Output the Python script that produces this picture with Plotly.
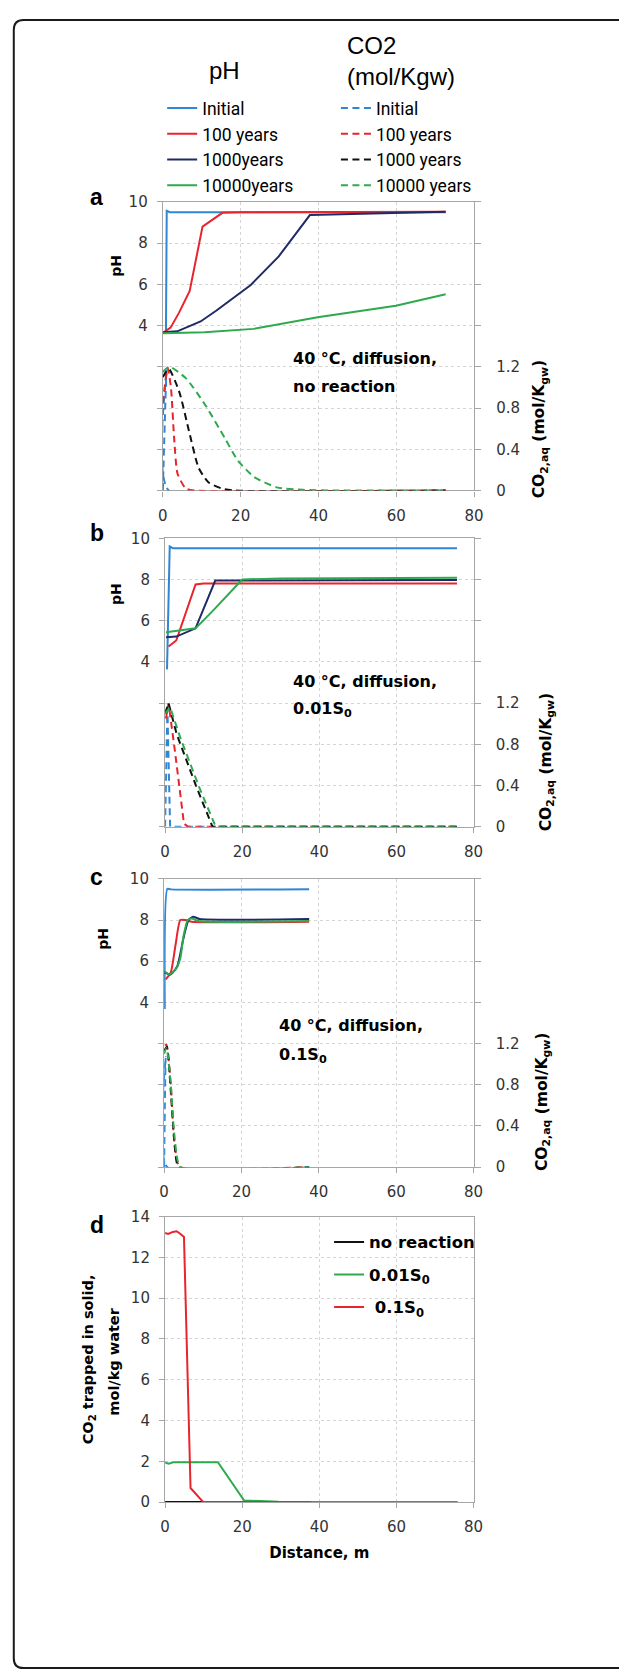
import plotly.graph_objects as go

W, H = 629, 1679
def fx(p): return p / W
def fy(p): return 1 - p / H

# ---------------- data ----------------
series_names_ph = ["Initial", "100 years", "1000years", "10000years"]
series_names_co2 = ["Initial", "100 years", "1000 years", "10000 years"]

# Panel a : no reaction
a_x_ph_init = [0.8, 1.0, 1.8, 72.7];  a_ph_init = [3.65, 9.57, 9.5, 9.5]
a_x_ph_100 = [0, 2.0, 4.2, 6.9, 10.2, 15.3, 20, 72.7]; a_ph_100 = [3.65, 3.9, 4.64, 5.68, 8.8, 9.47, 9.5, 9.52]
a_x_ph_1000 = [0, 3.7, 9.7, 13.7, 22.6, 29.8, 37.8, 72.7]; a_ph_1000 = [3.68, 3.72, 4.2, 4.72, 5.97, 7.36, 9.36, 9.52]
a_x_ph_10000 = [0, 10.7, 23.3, 39.8, 59.9, 72.7]; a_ph_10000 = [3.63, 3.68, 3.84, 4.4, 4.96, 5.52]

a_x_co2_init = [0, 1.0, 1.5, 72.7]; a_co2_init = [0, 1.18, 0, 0]
a_x_co2_100 = [0, 1.25, 2.1, 2.9, 3.8, 5.9, 8, 72.7]; a_co2_100 = [0.85, 1.19, 0.99, 0.51, 0.16, 0.02, 0, 0]
a_x_co2_1000 = [0, 1.5, 4.2, 6.7, 9.2, 11.7, 15.1, 18.5, 72.7]; a_co2_1000 = [1.1, 1.18, 0.96, 0.58, 0.22, 0.08, 0.02, 0, 0]
a_x_co2_10000 = [0, 1.7, 5.9, 10.9, 15.9, 19.3, 23.5, 29.3, 36, 43.6, 72.7]
a_co2_10000 = [1.15, 1.2, 1.09, 0.83, 0.51, 0.29, 0.13, 0.03, 0.006, 0, 0]

# Panel b : 0.01 S0
b_x_ph_init = [0.5, 1.2, 2.0, 75.7]; b_ph_init = [3.64, 9.6, 9.52, 9.52]
b_x_ph_100 = [0.9, 2.9, 7.9, 10, 75.7]; b_ph_100 = [4.75, 5.04, 7.76, 7.8, 7.8]
b_x_ph_1000 = [0.25, 2.9, 7.9, 13, 20, 75.7]; b_ph_1000 = [5.2, 5.23, 5.63, 7.95, 7.95, 7.97]
b_x_ph_10000 = [0.25, 7.9, 12.8, 20, 30, 75.7]; b_ph_10000 = [5.44, 5.63, 6.56, 8.0, 8.05, 8.08]

b_x_co2_init = [0, 0.6, 1.3, 75.7]; b_co2_init = [0, 1.15, 0, 0]
b_x_co2_100 = [0.2, 0.9, 2.5, 4.9, 6, 75.7]; b_co2_100 = [1.05, 1.2, 0.75, 0.03, 0, 0]
b_x_co2_1000 = [0, 0.9, 3, 8, 12.3, 75.7]; b_co2_1000 = [1.1, 1.2, 0.9, 0.4, 0, 0]
b_x_co2_10000 = [0, 1.3, 3.9, 9, 12.8, 13.6, 75.7]; b_co2_10000 = [1.1, 1.16, 0.87, 0.37, 0.03, 0, 0]

# Panel c : 0.1 S0
c_x_ph_init = [0.17, 0.85, 1.7, 37.5]; c_ph_init = [3.68, 9.52, 9.49, 9.49]
c_x_ph_100 = [0.4, 1.7, 2.96, 4.2, 5.5, 7.2, 37.5]; c_ph_100 = [5.12, 5.44, 6.8, 8.0, 8.0, 7.92, 7.92]
c_x_ph_1000 = [0, 1.7, 3.4, 5.0, 6.3, 7.5, 9.2, 37.5]; c_ph_1000 = [5.47, 5.36, 5.76, 7.12, 8.0, 8.16, 8.05, 8.05]
c_x_ph_10000 = [0, 1.3, 3, 4.2, 5, 6.1, 7.2, 8.9, 37.5]; c_ph_10000 = [5.52, 5.36, 5.6, 6.16, 7.2, 8.0, 8.08, 7.95, 7.95]

c_x_co2_init = [0, 0.4, 0.85, 37.5]; c_co2_init = [0, 1.07, 0, 0]
c_x_co2_100 = [0.25, 0.6, 1.7, 2.5, 3.4, 4.2, 37.5]; c_co2_100 = [1.18, 1.19, 0.81, 0.3, 0.05, 0, 0]
c_x_co2_1000 = [0, 0.7, 1.7, 2.9, 3.8, 37.5]; c_co2_1000 = [1.13, 1.17, 0.75, 0.15, 0, 0]
c_x_co2_10000 = [0, 0.6, 1.7, 2.5, 3.4, 4.2, 37.5]; c_co2_10000 = [1.1, 1.16, 0.81, 0.37, 0.08, 0, 0]

# Panel d : CO2 trapped in solid
d_names = ["no reaction", "0.01S<sub>0</sub>", "\u00a00.1S<sub>0</sub>"]
d_x_none = [0, 72.7]; d_none = [0, 0]
d_x_001 = [0, 0.9, 2.3, 13.7, 20.5, 29.4, 75.9]; d_001 = [1.94, 1.88, 1.96, 1.96, 0.08, 0.02, 0]
d_x_01 = [0, 0.8, 2, 3, 4, 4.9, 6.6, 9.9, 37.9]; d_01 = [13.2, 13.15, 13.25, 13.28, 13.15, 13.0, 0.69, 0, 0]

x_ticks = [0, 20, 40, 60, 80]
ph_tickvals = [4, 6, 8, 10]
ph_minor_vals = [-4, -2, 0, 2]
co2_tickvals = [0, 0.4, 0.8, 1.2]
co2_minor_vals = [1.6, 2.0, 2.4, 2.8]
d_tickvals = [0, 2, 4, 6, 8, 10, 12, 14]

# ---------------- styles ----------------
BLUE = "#2F86D3"
RED = "#E8242C"
NAVY = "#1F2A68"
GREEN = "#2DAA4E"
BLACK = "#111111"
AXC = "#A6A6A6"
GRIDC = "#D4D4D4"
TICKFONT = dict(family="DejaVu Sans", size=15, color="#333333")
DASH = "7px,4.5px"

fig = go.Figure()

panels = [
    ("a", "x", "y", "y2",
     [(a_x_ph_init, a_ph_init), (a_x_ph_100, a_ph_100), (a_x_ph_1000, a_ph_1000), (a_x_ph_10000, a_ph_10000)],
     [(a_x_co2_init, a_co2_init), (a_x_co2_100, a_co2_100), (a_x_co2_1000, a_co2_1000), (a_x_co2_10000, a_co2_10000)],
     "linear", "spline"),
    ("b", "x2", "y3", "y4",
     [(b_x_ph_init, b_ph_init), (b_x_ph_100, b_ph_100), (b_x_ph_1000, b_ph_1000), (b_x_ph_10000, b_ph_10000)],
     [(b_x_co2_init, b_co2_init), (b_x_co2_100, b_co2_100), (b_x_co2_1000, b_co2_1000), (b_x_co2_10000, b_co2_10000)],
     "linear", "linear"),
    ("c", "x3", "y5", "y6",
     [(c_x_ph_init, c_ph_init), (c_x_ph_100, c_ph_100), (c_x_ph_1000, c_ph_1000), (c_x_ph_10000, c_ph_10000)],
     [(c_x_co2_init, c_co2_init), (c_x_co2_100, c_co2_100), (c_x_co2_1000, c_co2_1000), (c_x_co2_10000, c_co2_10000)],
     "spline", "spline"),
]

ph_colors = [BLUE, RED, NAVY, GREEN]
co2_colors = [BLUE, RED, BLACK, GREEN]

for key, xa, ya, yb, phs, co2s, shp_ph, shp_co2 in panels:
    first = key == "a"
    for i, (xs, ys) in enumerate(co2s):
        fig.add_trace(go.Scatter(x=xs, y=ys, mode="lines", xaxis=xa, yaxis=yb,
                                 line=dict(color=co2_colors[i], width=2, dash=DASH, shape=shp_co2, smoothing=0.6),
                                 name=series_names_co2[i], showlegend=first, legend="legend2",
                                 legendgroup="co2_%d" % i, hoverinfo="skip"))
    for i, (xs, ys) in enumerate(phs):
        fig.add_trace(go.Scatter(x=xs, y=ys, mode="lines", xaxis=xa, yaxis=ya,
                                 line=dict(color=ph_colors[i], width=2, shape=shp_ph, smoothing=0.6),
                                 name=series_names_ph[i], showlegend=first, legend="legend",
                                 legendgroup="ph_%d" % i, hoverinfo="skip"))

for i, (xs, ys, col) in enumerate([(d_x_none, d_none, BLACK), (d_x_001, d_001, GREEN), (d_x_01, d_01, RED)]):
    fig.add_trace(go.Scatter(x=xs, y=ys, mode="lines", xaxis="x4", yaxis="y7",
                             line=dict(color=col, width=2), name=d_names[i],
                             legend="legend3", legendgroup="d_%d" % i, hoverinfo="skip"))

# ---------------- axes ----------------
geo = {
    "a": (161.7, 480.5, 195.0, 486.7),
    "b": (164.0, 480.0, 535.0, 826.7),
    "c": (163.0, 480.0, 879.3, 1170.7),
    "d": (164.0, 480.0, 1220.7, 1509.3),
}

common = dict(showline=True, linecolor=AXC, linewidth=1.3, ticks="outside", tickcolor=AXC, tickwidth=1.3,
              zeroline=False, tickfont=TICKFONT, fixedrange=True, layer="below traces")

def xaxis_cfg(key, anchor):
    x0, x1, y0, y1 = geo[key]
    return dict(domain=[fx(x0), fx(x1)], anchor=anchor, range=[0, 80], tickvals=x_ticks,
                mirror=True, ticklen=5, showgrid=True, gridcolor=GRIDC, griddash="dot", gridwidth=1,
                ticklabelstandoff=6, **common)

def yph_cfg(key, anchor):
    x0, x1, y0, y1 = geo[key]
    return dict(domain=[fy(y1), fy(y0)], anchor=anchor, range=[-4, 10], tickvals=ph_tickvals,
                ticklen=5, showgrid=True, gridcolor=GRIDC, griddash="dot", gridwidth=1,
                ticklabelstandoff=6,
                minor=dict(tickvals=ph_minor_vals, ticks="outside", ticklen=5, tickcolor=AXC, tickwidth=1.3,
                           showgrid=True, gridcolor=GRIDC, griddash="dot", gridwidth=1),
                **common)

def yco2_cfg(overlay, anchor):
    return dict(overlaying=overlay, side="right", anchor=anchor, range=[0, 2.8],
                tickvals=co2_tickvals, ticklen=6, showgrid=False, ticklabelstandoff=12,
                minor=dict(tickvals=co2_minor_vals, ticks="outside", ticklen=6, tickcolor=AXC, tickwidth=1.3,
                           showgrid=False),
                **common)

layout_axes = dict(
    xaxis=xaxis_cfg("a", "y"), yaxis=yph_cfg("a", "x"), yaxis2=yco2_cfg("y", "x"),
    xaxis2=xaxis_cfg("b", "y3"), yaxis3=yph_cfg("b", "x2"), yaxis4=yco2_cfg("y3", "x2"),
    xaxis3=xaxis_cfg("c", "y5"), yaxis5=yph_cfg("c", "x3"), yaxis6=yco2_cfg("y5", "x3"),
    xaxis4=xaxis_cfg("d", "y7"),
)
layout_axes["xaxis4"]["title"] = dict(text="Distance, m", standoff=12,
                                      font=dict(family="DejaVu Sans", size=15, color="#000000", weight="bold"))
x0, x1, y0, y1 = geo["d"]
layout_axes["yaxis7"] = dict(domain=[fy(y1), fy(y0)], anchor="x4", range=[0, 14], tickvals=d_tickvals,
                             mirror=True, ticklen=5, showgrid=True, gridcolor=GRIDC, griddash="dot", gridwidth=1,
                             ticklabelstandoff=6, **common)

# ---------------- annotations ----------------
ann = []
def A(text, x, y, size, family="DejaVu Sans", bold=False, xanchor="center", yanchor="middle",
      angle=0, align="center", color="#000000"):
    ann.append(dict(text=text, x=fx(x), y=fy(y), xref="paper", yref="paper",
                    showarrow=False, xanchor=xanchor, yanchor=yanchor, textangle=angle, align=align,
                    font=dict(family=family, size=size, color=color, weight="bold" if bold else "normal")))

A("pH", 224.6, 62, 24, family="Liberation Sans")
A("CO2<br>(mol/Kgw)", 348, 52.5, 24, family="Liberation Sans", xanchor="left", align="left")

for lab, yy in [("a", 190), ("b", 530), ("c", 877), ("d", 1229)]:
    A(lab, 94, yy, 23, family="Liberation Sans", bold=True)

for xx, yy in [(114.3, 260), (114.3, 591.7), (100.3, 940)]:
    A("pH", xx, yy, 14, bold=True, angle=-90)
for xx, yy in [(549, 425), (555, 761.7), (551, 1105)]:
    A("CO<sub>2,aq</sub> (mol/K<sub>gw</sub>)", xx, yy, 15.5, bold=True, angle=-90)

A("40 °C, diffusion,", 293, 353.3, 16, bold=True, xanchor="left")
A("no reaction", 293, 381.7, 16, bold=True, xanchor="left")
A("40 °C, diffusion,", 293, 680, 16, bold=True, xanchor="left")
A("0.01S<sub>0</sub>", 293, 708, 16, bold=True, xanchor="left")
A("40 °C, diffusion,", 279, 1028, 16, bold=True, xanchor="left")
A("0.1S<sub>0</sub>", 279, 1058, 16, bold=True, xanchor="left")

A("CO<sub>2</sub> trapped in solid,", 86, 1365, 14.5, bold=True, angle=-90)
A("mol/kg water", 112, 1367, 14.5, bold=True, angle=-90)

# ---------------- frame ----------------
r = 10
path = ("M %f,%f L %f,%f Q %f,%f %f,%f L %f,%f Q %f,%f %f,%f L %f,%f" % (
    fx(629), fy(11), fx(9 + r), fy(11), fx(9), fy(11), fx(9), fy(11 + r),
    fx(9), fy(1677 - r), fx(9), fy(1677), fx(9 + r), fy(1677), fx(629), fy(1677)))
shapes = [dict(type="path", path=path, xref="paper", yref="paper",
               line=dict(color="#1A1A1A", width=2))]

LEGFONT = dict(family="Roboto", size=17.5, color="#000000")
fig.update_layout(
    width=W, height=H, margin=dict(l=0, r=0, t=0, b=0),
    paper_bgcolor="white", plot_bgcolor="white",
    showlegend=True,
    legend=dict(x=fx(161), y=fy(82), xanchor="left", yanchor="top", bgcolor="rgba(0,0,0,0)",
                font=LEGFONT, itemwidth=30, traceorder="normal", tracegroupgap=0),
    legend2=dict(x=fx(339), y=fy(82), xanchor="left", yanchor="top", bgcolor="rgba(0,0,0,0)",
                 font=LEGFONT, itemwidth=30, traceorder="normal", tracegroupgap=0),
    legend3=dict(x=fx(332), y=fy(1229), xanchor="left", yanchor="top", bgcolor="rgba(0,0,0,0)",
                 font=dict(family="DejaVu Sans", size=16.5, color="#000000", weight="bold"), itemwidth=30,
                 traceorder="grouped", tracegroupgap=8),
    annotations=ann, shapes=shapes,
    **layout_axes,
)

fig.write_html("out.html")
